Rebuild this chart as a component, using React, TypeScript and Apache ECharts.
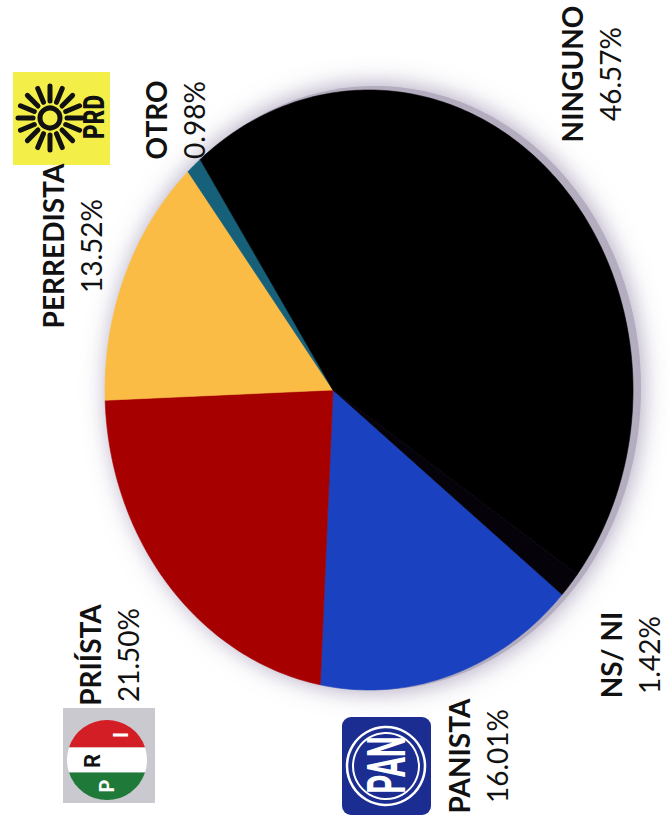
import React, { useEffect, useRef } from 'react';
import * as echarts from 'echarts';

// ---- data (clockwise from the PANISTA slice) ----
const categories = ['PANISTA', 'PRIÍSTA', 'PERREDISTA', 'OTRO', 'NINGUNO', 'NS/ NI'];
const values = [16.01, 21.5, 13.52, 0.98, 46.57, 1.42];
const sliceColors = ['#1a42c0', '#a60000', '#fbbc45', '#16607a', '#000000', '#06020a'];

// ---- layout (kept apart from data) ----
const labelLayout = [
  [478, 756],
  [109, 655],
  [72, 246],
  [175, 120],
  [591, 74],
  [630, 655],
];
const PIE = { cx: 369, cy: 390, rx: 264, ry: 300, apexX: 333, apexY: 390, startDeg: 43 };
const LINE_GAP = 19;
const FONT = 'Lato, "Open Sans", sans-serif';

function textEl(x: number, y: number, text: string, opts: any = {}) {
  const { fontSize = 28, fontWeight = 'normal', fill = '#111', fontFamily = FONT, scaleX = 1, z = 10 } = opts;
  return {
    type: 'text',
    x,
    y,
    rotation: Math.PI / 2,
    scaleX,
    z,
    style: {
      text,
      fontSize,
      fontWeight,
      fontFamily,
      fill,
      align: 'center',
      verticalAlign: 'middle',
      textAlign: 'center',
      textVerticalAlign: 'middle',
    },
  };
}

export default function App() {
  const ref = useRef<HTMLDivElement>(null);

  useEffect(() => {
    const el = ref.current!;
    const chart = echarts.init(el, null, { renderer: 'svg' });

    // register circular-segment shapes for the PRI logo
    const R = 40;
    const c = 12.5;
    const hw = Math.sqrt(R * R - c * c);
    echarts.graphic.registerShape(
      'priTop',
      echarts.graphic.extendPath(`M ${-hw} ${-c} A ${R} ${R} 0 0 1 ${hw} ${-c} Z`, {})
    );
    echarts.graphic.registerShape(
      'priBottom',
      echarts.graphic.extendPath(`M ${hw} ${c} A ${R} ${R} 0 0 1 ${-hw} ${c} Z`, {})
    );
    echarts.graphic.registerShape(
      'priMid',
      echarts.graphic.extendPath(
        `M ${-hw} ${-c} L ${hw} ${-c} A ${R} ${R} 0 0 1 ${hw} ${c} L ${-hw} ${c} A ${R} ${R} 0 0 1 ${-hw} ${-c} Z`,
        {}
      )
    );

    const total = values.reduce((a, b) => a + b, 0);
    const cumBefore = values.map((_, i) => values.slice(0, i).reduce((a, b) => a + b, 0));
    const data = values.map((v, i) => ({
      name: categories[i],
      value: [v, cumBefore[i]],
      itemStyle: { color: sliceColors[i] },
    }));

    const renderItem = (params: any, api: any) => {
      const v = api.value(0);
      const before = api.value(1);
      const a0 = (PIE.startDeg * Math.PI) / 180 + (before / total) * 2 * Math.PI;
      const a1 = a0 + (v / total) * 2 * Math.PI;
      const n = Math.max(2, Math.ceil(((a1 - a0) * 180) / Math.PI));
      const pts: number[][] = [[PIE.apexX, PIE.apexY]];
      for (let k = 0; k <= n; k++) {
        const a = a0 + ((a1 - a0) * k) / n;
        pts.push([PIE.cx + PIE.rx * Math.cos(a), PIE.cy + PIE.ry * Math.sin(a)]);
      }
      const color = sliceColors[params.dataIndex];
      return {
        type: 'polygon',
        shape: { points: pts },
        style: { fill: color, stroke: color, lineWidth: 0.6 },
      };
    };

    // labels built from the data arrays
    const labelEls: any[] = [];
    categories.forEach((name, i) => {
      const [x, y] = labelLayout[i];
      labelEls.push(textEl(x - LINE_GAP, y, name, { fontWeight: 'bold' }));
      labelEls.push(textEl(x + LINE_GAP, y, values[i].toFixed(2) + '%'));
    });

    // PRD sun rays
    const sun = { x: 50, y: 118 };
    const rays: any[] = [];
    for (let k = 0; k < 16; k++) {
      const a = (k * 22.5 * Math.PI) / 180;
      rays.push({
        type: 'line',
        z: 10,
        shape: {
          x1: sun.x + 17 * Math.cos(a),
          y1: sun.y + 17 * Math.sin(a),
          x2: sun.x + 32 * Math.cos(a),
          y2: sun.y + 32 * Math.sin(a),
        },
        style: { stroke: '#111', lineWidth: 5, lineCap: 'round' },
      });
    }

    const logos: any[] = [
      // PRD
      { type: 'rect', z: 9, shape: { x: 13, y: 72, width: 97, height: 93 }, style: { fill: '#f4ef48' } },
      ...rays,
      { type: 'circle', z: 10, shape: { cx: sun.x, cy: sun.y, r: 10 }, style: { fill: 'none', stroke: '#111', lineWidth: 5 } },
      textEl(93, 117, 'PRD', { fontSize: 30, fontWeight: 900, fontFamily: 'Roboto, sans-serif', scaleX: 0.75 }),
      // PRI
      { type: 'rect', z: 9, shape: { x: 63, y: 708, width: 92, height: 95 }, style: { fill: '#c9c9cf' } },
      { type: 'priTop', z: 10, x: 107, y: 760, style: { fill: '#d21e24' } },
      { type: 'priMid', z: 10, x: 107, y: 760, style: { fill: '#ffffff' } },
      { type: 'priBottom', z: 10, x: 107, y: 760, style: { fill: '#1f7a3a' } },
      textEl(121, 735, 'I', { fontSize: 20, fontWeight: 'bold', fill: '#fff', fontFamily: 'Roboto, sans-serif' }),
      textEl(92, 761, 'R', { fontSize: 22, fontWeight: 'bold', fill: '#111', fontFamily: 'Roboto, sans-serif' }),
      textEl(107, 786, 'P', { fontSize: 20, fontWeight: 'bold', fill: '#fff', fontFamily: 'Roboto, sans-serif' }),
      // PAN
      { type: 'rect', z: 9, shape: { x: 342, y: 717, width: 89, height: 98, r: 9 }, style: { fill: '#1b2d90' } },
      { type: 'circle', z: 10, shape: { cx: 386, cy: 766, r: 39 }, style: { fill: 'none', stroke: '#fff', lineWidth: 2.5 } },
      { type: 'circle', z: 10, shape: { cx: 386, cy: 766, r: 33 }, style: { fill: 'none', stroke: '#fff', lineWidth: 2 } },
      textEl(387, 765, 'PAN', { fontSize: 54, fontWeight: 'bold', fill: '#fff', fontFamily: 'Roboto, sans-serif', scaleX: 0.55 }),
    ];

    chart.setOption({
      animation: false,
      backgroundColor: '#ffffff',
      series: [
        {
          type: 'custom',
          coordinateSystem: 'none',
          z: 5,
          renderItem,
          data,
        },
      ],
      graphic: {
        elements: [
          {
            type: 'ellipse',
            z: 1,
            shape: { cx: PIE.cx + 6, cy: PIE.cy - 2, rx: PIE.rx + 2, ry: PIE.ry + 2 },
            style: {
              fill: '#b4acbf',
              shadowBlur: 26,
              shadowColor: 'rgba(160,150,180,0.95)',
            },
          },
          ...labelEls,
          ...logos,
        ],
      },
    });

    return () => chart.dispose();
  }, []);

  return (
    <div
      ref={ref}
      style={{ position: 'absolute', left: 0, top: 0, width: 668, height: 830, background: '#fff' }}
    />
  );
}
